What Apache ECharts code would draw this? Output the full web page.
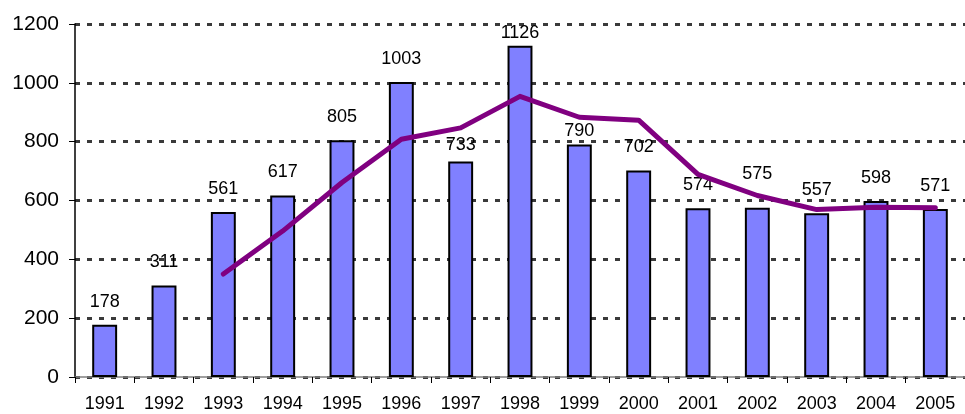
<!DOCTYPE html>
<html>
<head>
<meta charset="utf-8">
<script src="https://cdn.jsdelivr.net/npm/echarts@6/dist/echarts.min.js"></script>
<style>
  html, body { margin: 0; padding: 0; background: #fff; }
  #chart { width: 965px; height: 414px; }
</style>
</head>
<body>
<div id="chart"></div>
<script>
// Yearly totals (bars) and their three-year moving average (line)
const years = ['1991', '1992', '1993', '1994', '1995', '1996', '1997', '1998',
               '1999', '2000', '2001', '2002', '2003', '2004', '2005'];
const annualValues = [178, 311, 561, 617, 805, 1003, 733, 1126, 790, 702, 574, 575, 557, 598, 571];
const movingAverage = [null, null, 350, 496, 661, 808, 847, 954, 883, 873, 689, 617, 569, 577, 575];
const yTicks = [0, 200, 400, 600, 800, 1000, 1200];

// Vertical nudges (px) for value labels that sit closer to or farther from their bar
const labelNudge = { 6: 7, 7: 10, 8: 9, 11: -11 };

const chart = echarts.init(document.getElementById('chart'), null, { renderer: 'canvas' });

const font = 'Arial, "Liberation Sans", sans-serif';

const barData = annualValues.map((v, i) => {
  const item = { value: v };
  if (labelNudge[i] !== undefined) item.label = { offset: [0, labelNudge[i]] };
  return item;
});

chart.setOption({
  animation: false,
  backgroundColor: '#ffffff',
  grid: { left: 75, right: -9, top: 24, bottom: 37, containLabel: false },
  xAxis: {
    type: 'category',
    data: years,
    boundaryGap: true,
    axisLine: { show: true, lineStyle: { color: '#808080', width: 1.5 } },
    axisTick: { show: true, alignWithLabel: false, length: 6, lineStyle: { color: '#000', width: 1 } },
    axisLabel: { color: '#000', fontSize: 18, fontFamily: font, margin: 18, interval: 0 },
    splitLine: { show: false }
  },
  yAxis: {
    type: 'value',
    min: yTicks[0],
    max: yTicks[yTicks.length - 1],
    interval: yTicks[1] - yTicks[0],
    axisLine: { show: true, lineStyle: { color: '#000', width: 1.5 } },
    axisTick: { show: true, length: 6, lineStyle: { color: '#000', width: 1 } },
    axisLabel: {
      color: '#000', fontSize: 21, fontFamily: font, margin: 16,
      formatter: (v) => String(v)
    },
    splitLine: {
      show: true,
      lineStyle: { color: '#3a3a3a', width: 3, type: [5, 7] }
    }
  },
  series: [
    {
      type: 'bar',
      data: barData,
      barWidth: '42%',
      itemStyle: { color: '#8080ff', borderColor: '#000', borderWidth: 2 },
      label: {
        show: true,
        position: 'top',
        distance: 14,
        color: '#000',
        fontSize: 18,
        fontFamily: font
      },
      z: 2
    },
    {
      type: 'line',
      data: movingAverage,
      symbol: 'none',
      connectNulls: false,
      lineStyle: { color: '#800080', width: 5, join: 'round', cap: 'round' },
      z: 3
    }
  ]
});
</script>
</body>
</html>
